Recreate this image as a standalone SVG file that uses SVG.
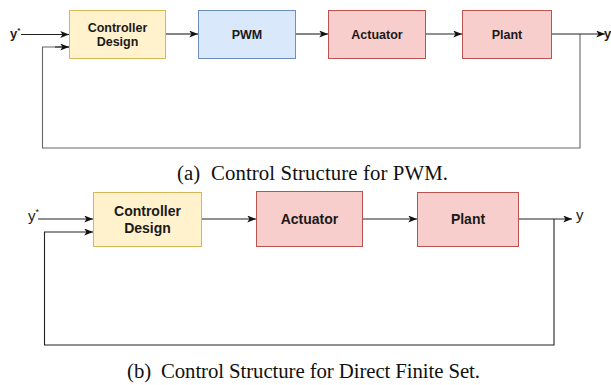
<svg xmlns="http://www.w3.org/2000/svg" width="611" height="385" viewBox="0 0 611 385">
<style>
.lbl{font-family:"Liberation Sans",Arial,sans-serif;font-weight:bold;fill:#1a1a1a;text-anchor:middle}
.s{font-size:12.5px}
.b{font-size:14px}
.yel{fill:#fff2cc;stroke:#d6b656;stroke-width:1}
.blu{fill:#dae8fc;stroke:#6c8ebf;stroke-width:1}
.red{fill:#f8cecc;stroke:#b85450;stroke-width:1}
.ln{fill:none;stroke:#222;stroke-width:1.1}
.fb{fill:none;stroke:#666;stroke-width:1.1}
.cap{font-family:"Liberation Serif","Times New Roman",serif;font-size:20.8px;fill:#111}
.sig{font-family:"Liberation Sans",Arial,sans-serif;fill:#222}
</style>
<defs>
<marker id="ah" viewBox="0 0 10 8" refX="10" refY="4" markerWidth="9" markerHeight="7" markerUnits="userSpaceOnUse" orient="auto">
<path d="M0,0 L10,4 L0,8 L2.5,4 Z" fill="#111"/>
</marker>
</defs>

<!-- (a) -->
<g id="a-controller"><rect class="yel" x="69.5" y="10.5" width="96" height="48"/>
<text class="lbl s" x="117.5" y="31.5">Controller</text><text class="lbl s" x="117.5" y="46">Design</text></g>
<g id="a-pwm"><rect class="blu" x="198.5" y="10.5" width="97" height="48"/>
<text class="lbl s" x="247" y="39">PWM</text></g>
<g id="a-actuator"><rect class="red" x="328.5" y="10.5" width="97" height="48"/>
<text class="lbl s" x="377" y="39">Actuator</text></g>
<g id="a-plant"><rect class="red" x="462.5" y="10.5" width="89" height="48"/>
<text class="lbl s" x="507" y="39">Plant</text></g>
<g id="a-signals">
<text class="sig" x="10" y="38" font-size="13" font-weight="bold">y<tspan font-size="8" dy="-5">*</tspan></text>
<text class="sig" x="604" y="38" font-size="13" font-weight="bold">y</text>
</g>
<g id="a-connectors">
<path class="ln" d="M21,34.5 H69" marker-end="url(#ah)"/>
<path class="fb" d="M580,34 V148 H42.5 V47 H69" />
<path class="ln" d="M55,47 H69" marker-end="url(#ah)"/>
<path class="ln" d="M166,34 H198" marker-end="url(#ah)"/>
<path class="ln" d="M296,34 H328" marker-end="url(#ah)"/>
<path class="ln" d="M426,34 H462" marker-end="url(#ah)"/>
<path class="ln" d="M552,34 H605" marker-end="url(#ah)"/>
</g>
<g id="a-caption">
<text class="cap" x="177" y="180">(a)</text>
<text class="cap" x="211" y="180" textLength="237" lengthAdjust="spacing">Control Structure for PWM.</text>
</g>

<!-- (b) -->
<g id="b-controller"><rect class="yel" x="93.5" y="192.5" width="108" height="54"/>
<text class="lbl b" x="147.5" y="216">Controller</text><text class="lbl b" x="147.5" y="233">Design</text></g>
<g id="b-actuator"><rect class="red" x="256.5" y="191.5" width="106" height="55"/>
<text class="lbl b" x="309.5" y="224">Actuator</text></g>
<g id="b-plant"><rect class="red" x="417.5" y="192.5" width="101" height="54"/>
<text class="lbl b" x="468" y="224">Plant</text></g>
<g id="b-signals">
<text class="sig" x="28" y="221" font-size="15">y<tspan font-size="9" dy="-6">*</tspan></text>
<text class="sig" x="576" y="220" font-size="15">y</text>
</g>
<g id="b-connectors">
<path class="ln" d="M38,219 H93" marker-end="url(#ah)"/>
<path class="ln" d="M554,219 V345 H44.5 V232 H93" marker-end="url(#ah)"/>
<path class="ln" d="M202,219 H256" marker-end="url(#ah)"/>
<path class="ln" d="M363,219 H417" marker-end="url(#ah)"/>
<path class="ln" d="M519,219 H572" marker-end="url(#ah)"/>
</g>
<g id="b-caption">
<text class="cap" x="127" y="378">(b)</text>
<text class="cap" x="161" y="378" textLength="319" lengthAdjust="spacing">Control Structure for Direct Finite Set.</text>
</g>
</svg>
